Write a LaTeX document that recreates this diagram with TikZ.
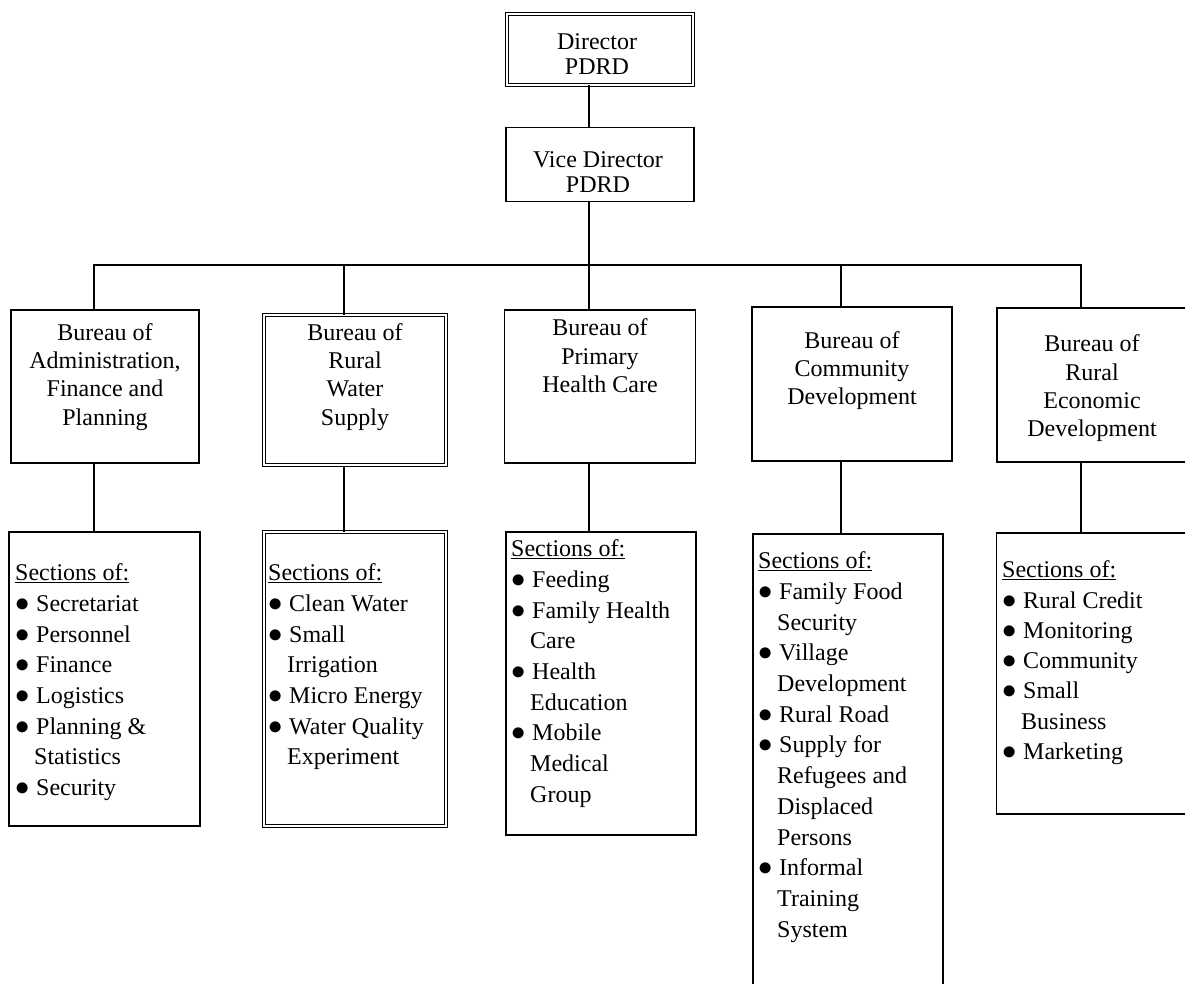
\documentclass[tikz,border=0pt]{standalone}
\usepackage{fontspec}
\setmainfont{Liberation Serif}
\tikzset{box/.style={draw, line width=1.3pt, inner sep=0pt}}
\tikzset{dbox/.style={draw, double, line width=1pt, double distance=2.2pt, inner sep=0pt}}
\tikzset{link/.style={line width=1.2pt}}
\tikzset{drop/.style={xshift=-11pt}}
\tikzset{head/.style={align=center, anchor=north, inner sep=0pt, font=\fontsize{24}{25}\selectfont}}
\tikzset{btext/.style={align=center, anchor=north, inner sep=0pt, font=\fontsize{24}{28.3}\selectfont}}
\tikzset{ltext/.style={align=left, anchor=north west, inner sep=0pt, font=\fontsize{24}{30.7}\selectfont}}
\newcommand{\bitem}{\makebox[21pt][l]{\scalebox{1.15}{$\bullet$}}}
\newcommand{\bcont}{\hspace*{19pt}}

\begin{document}
\begin{tikzpicture}[x=1pt, y=-1pt]
      \useasboundingbox (0, 0) rectangle (1185, 984);
      \clip (0, 0) rectangle (1185, 984);

      \node[dbox, minimum width=186pt, minimum height=71pt] (dir) at (600, 49.5) {};
      \node[box, minimum width=188pt, minimum height=74pt] (vice) at (600, 164.5) {};
      \node[head] (tdir) at (597, 33.6) {Director\\PDRD};
      \node[head] (tvice) at (598, 151.6) {Vice Director\\PDRD};
      \coordinate (bus) at (589, 265);

      % bureaus
      \node[box, minimum width=188pt, minimum height=153pt] (adm) at (105, 386.5) {};
      \node[dbox, minimum width=182pt, minimum height=150pt] (water) at (355, 390) {};
      \node[box, minimum width=191pt, minimum height=153pt] (health) at (600, 386.5) {};
      \node[box, minimum width=200pt, minimum height=154pt] (comm) at (852, 384) {};
      \node[box, minimum width=190pt, minimum height=154pt] (econ) at (1092, 385) {};

      \node[btext] (tadm) at (105, 323) {Bureau of\\Administration,\\Finance and\\Planning};
      \node[btext] (twater) at (355, 323) {Bureau of\\Rural\\Water\\Supply};
      \node[btext] (thealth) at (600, 318.6) {Bureau of\\Primary\\Health Care};
      \node[btext] (tcomm) at (852, 331) {Bureau of\\Community\\Development};
      \node[btext] (tecon) at (1092, 334.6) {Bureau of\\Rural\\Economic\\Development};

      % sections
      \node[box, minimum width=191pt, minimum height=294pt] (sadm) at (104.5, 679) {};
      \node[dbox, minimum width=182pt, minimum height=294pt] (swater) at (355, 679) {};
      \node[box, minimum width=190pt, minimum height=303pt] (shealth) at (601, 683.5) {};
      \node[box, minimum width=190pt, minimum height=480pt] (scomm) at (848, 774) {};
      \node[box, minimum width=193pt, minimum height=281pt] (secon) at (1093, 673.5) {};

      \node[ltext] (ladm) at (15, 563.6) {\underline{Sections of:}\\ \bitem Secretariat\\ \bitem Personnel\\
        \bitem Finance\\ \bitem Logistics\\ \bitem Planning \&\\ \bcont Statistics\\ \bitem Security};
      \node[ltext] (lwater) at (268, 563.6) {\underline{Sections of:}\\ \bitem Clean Water\\ \bitem Small\\
        \bcont Irrigation\\ \bitem Micro Energy\\ \bitem Water Quality\\ \bcont Experiment};
      \node[ltext] (lhealth) at (511, 539.6) {\underline{Sections of:}\\ \bitem Feeding\\ \bitem Family Health\\
        \bcont Care\\ \bitem Health\\ \bcont Education\\ \bitem Mobile\\ \bcont Medical\\ \bcont Group};
      \node[ltext] (lcomm) at (758, 551.6) {\underline{Sections of:}\\ \bitem Family Food\\ \bcont Security\\
        \bitem Village\\ \bcont Development\\ \bitem Rural Road\\ \bitem Supply for\\ \bcont Refugees and\\
        \bcont Displaced\\ \bcont Persons\\ \bitem Informal\\ \bcont Training\\ \bcont System};
      \node[ltext, font=\fontsize{24}{30.3}\selectfont] (lecon) at (1002, 560.6) {\underline{Sections of:}\\
        \bitem Rural Credit\\ \bitem Monitoring\\ \bitem Community\\ \bitem Small\\ \bcont Business\\ \bitem Marketing};

      \draw[link] ([drop]dir.south) -- ([drop]vice.north);
      \draw[link] ([drop]vice.south) -- ([drop]health.north);
      \draw[link] ([drop]adm.north) |- (bus) -| ([drop]econ.north);
      \foreach \x in {water, comm}
        \draw[link] ([drop]\x.north) -- ([drop]\x.north |- bus);
      \foreach \x in {adm, water, health, comm, econ}
        \draw[link] ([drop]\x.south) -- ([drop]\x.south |- s\x.north);

    \end{tikzpicture}
\end{document}
